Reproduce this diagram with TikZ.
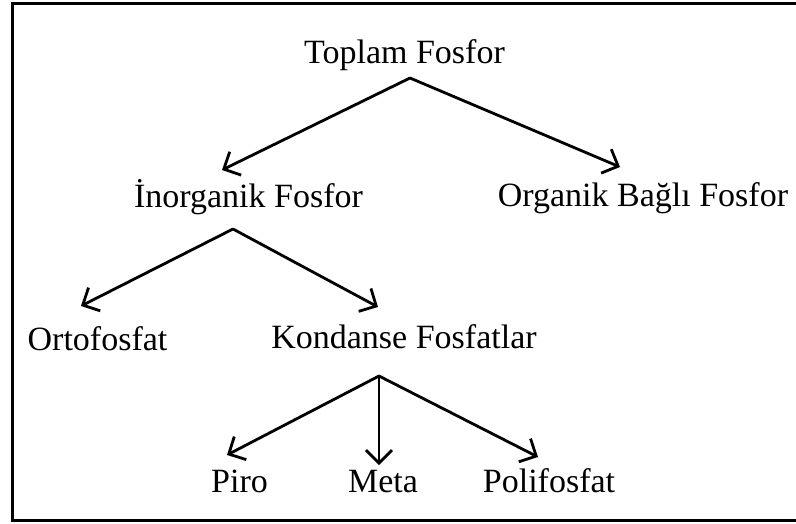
\documentclass[tikz,border=0pt]{standalone}
\usepackage{fontspec}
\setmainfont{Liberation Serif}
\usetikzlibrary{arrows.meta}
\begin{document}
\begin{tikzpicture}[x=1pt,y=-1pt,
  lbl/.style={anchor=base,inner sep=0pt,font=\fontsize{34}{37}\selectfont},
  arr/.style={line width=2.8pt,-{Straight Barb[length=13pt,width=26pt,line width=2.8pt]},line cap=round,line join=round}]
\useasboundingbox (0,0) rectangle (796,523);
\fill[white] (0,0) rectangle (796,523);
% frame
\draw[line width=3pt] (12,3.5) rectangle (805,520.5);

% labels
\node[lbl] (top) at (404.5,63) {Toplam Fosfor};
\node[lbl] (ino) at (248.5,207) {İnorganik Fosfor};
\node[lbl] (org) at (643,206) {Organik Bağlı Fosfor};
\node[lbl] (orto) at (97.5,350) {Ortofosfat};
\node[lbl] (kon) at (404,348) {Kondanse Fosfatlar};
\node[lbl] (piro) at (239.5,492) {Piro};
\node[lbl] (meta) at (383,492) {Meta};
\node[lbl] (poli) at (549,492) {Polifosfat};

% branch points under each parent
\coordinate (topfork) at (410,78);
\coordinate (inofork) at (233,229);
\coordinate (konfork) at (379,376);
% arrow ends above each child
\coordinate (inoend) at (222,170);
\coordinate (orgend) at (620,167);
\coordinate (ortoend) at (81,306);
\coordinate (konend) at (378,307);
\coordinate (piroend) at (227,455);
\coordinate (metaend) at (379,465);
\coordinate (poliend) at (538,457);

\draw[arr] (topfork) -- (inoend);
\draw[arr] (topfork) -- (orgend);
\draw[arr] (inofork) -- (ortoend);
\draw[arr] (inofork) -- (konend);
\draw[arr] (konfork) -- (piroend);
\draw[arr] (konfork) -- (metaend);
\draw[arr] (konfork) -- (poliend);
\end{tikzpicture}
\end{document}
